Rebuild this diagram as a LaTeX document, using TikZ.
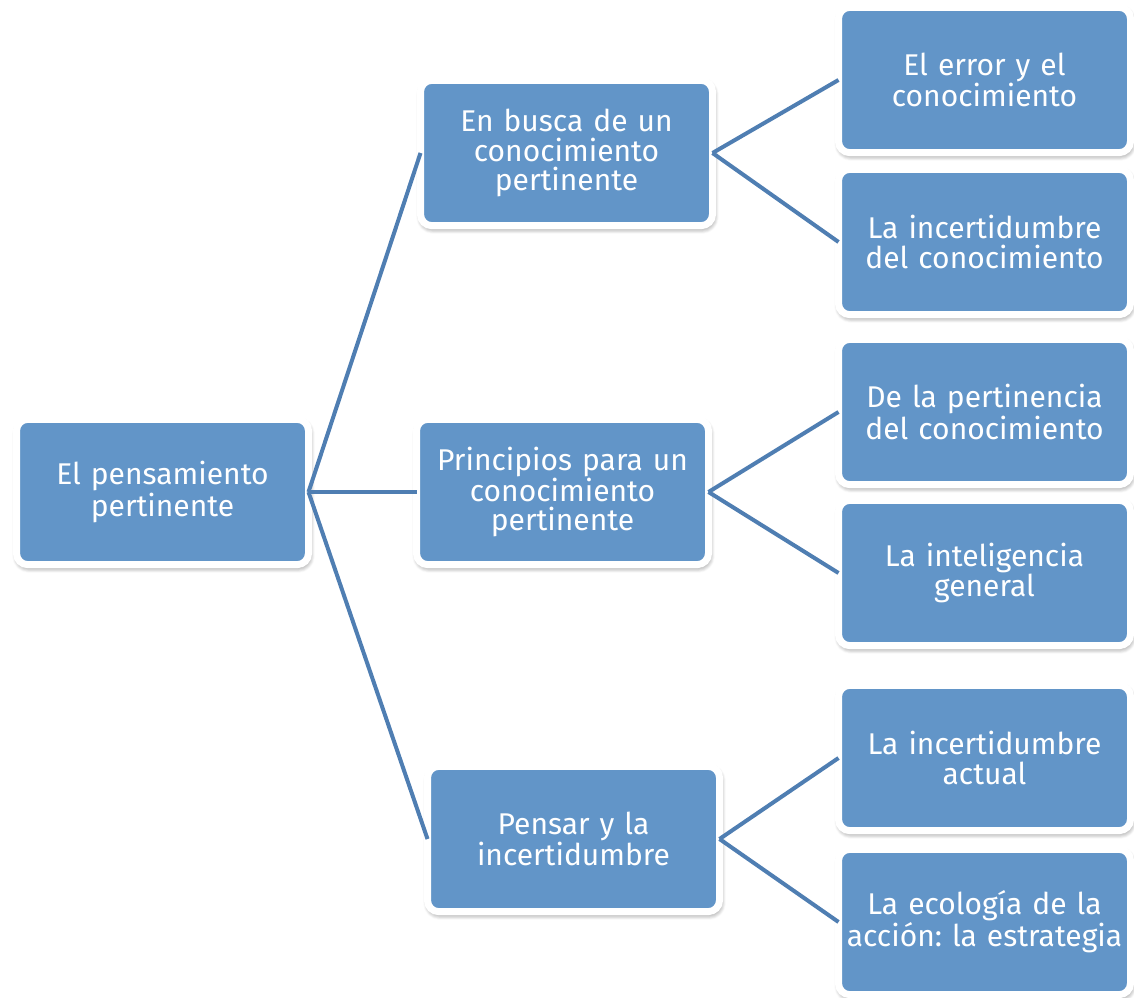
\documentclass[tikz,border=0pt]{standalone}
\usepackage{fontspec}
\setmainfont{Fira Sans}
\usetikzlibrary{positioning,shadows.blur}
\definecolor{boxblue}{RGB}{98,149,200}
\definecolor{linkblue}{RGB}{79,126,178}
\frenchspacing
\tikzset{
    topic/.style={rectangle, rounded corners=8.5pt, fill=boxblue, draw=white,
      line width=5.25pt, outer sep=0pt, inner sep=0pt,
      minimum width=219pt, minimum height=109pt, % outer size of a box
      text width=214pt, align=center, text=white,
      font=\fontsize{22.5}{22}\selectfont,
      blur shadow={shadow xshift=0.8pt, shadow yshift=-2.2pt,
        shadow blur radius=4pt, shadow blur steps=8, shadow opacity=55}},
    link/.style={draw=linkblue, line width=3pt}, % the connectors
}

\begin{document}
\begin{tikzpicture}[x=0.75pt,y=-0.75pt]
  \useasboundingbox (0,0) rectangle (1134,998);

  % root and the three themes
  \node[topic] (t_0) at (162.5,492) {El pensamiento\\pertinente};
  \node[topic] (t_1) at (566.5,153) {En busca de un\\conocimiento\\pertinente};
  \node[topic] (t_2) at (562.5,492) {Principios para un\\conocimiento\\pertinente};
  \node[topic] (t_3) at (573.5,839) {Pensar y la\\incertidumbre};

  % the leaves
  \node[topic] (t_11) at (984.5,80)  {El error y el\\conocimiento};
  \node[topic] (t_12) at (984.5,242) {La incertidumbre\\del conocimiento};
  \node[topic] (t_21) at (984.5,412) {De la pertinencia\\del conocimiento};
  \node[topic] (t_22) at (984.5,573) {La inteligencia\\general};
  \node[topic] (t_31) at (984.5,758) {La incertidumbre\\actual};
  \node[topic] (t_32) at (984.5,922) {La ecología de la\\acción: la estrategia};

  \path[link]
    (t_0.east) edge (t_1.west)
               edge (t_2.west)
               edge (t_3.west)
    (t_1.east) edge (t_11.west)
               edge (t_12.west)
    (t_2.east) edge (t_21.west)
               edge (t_22.west)
    (t_3.east) edge (t_31.west)
               edge (t_32.west);
\end{tikzpicture}
\end{document}
